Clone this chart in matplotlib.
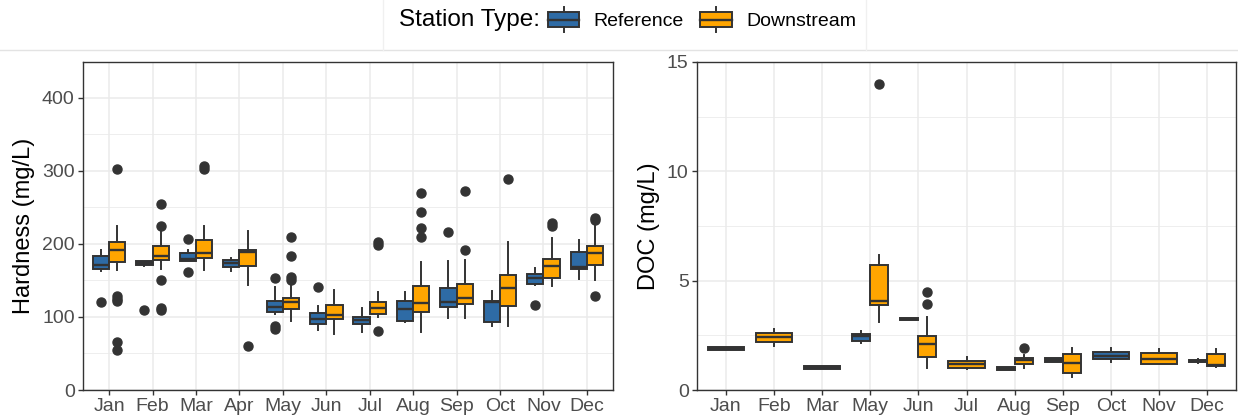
import matplotlib
matplotlib.use("Agg")
import matplotlib.pyplot as plt
from matplotlib.legend_handler import HandlerBase
from matplotlib.lines import Line2D
from matplotlib.patches import Patch, Rectangle
from matplotlib.ticker import MultipleLocator

plt.rcParams['font.family'] = ['Liberation Sans', 'DejaVu Sans']

REF_COL = "#2E6BA5"
DOWN_COL = "#FFA500"
EDGE = "#333333"
GRID = "#EBEBEB"

months = ["Jan", "Feb", "Mar", "Apr", "May", "Jun",
          "Jul", "Aug", "Sep", "Oct", "Nov", "Dec"]

# Hardness (mg/L) box statistics per month: low whisker, q1, median, q3, high whisker
hard_ref_lo = [163, 170, 176, 163, 104, 82, 80, 93, 98, 88, 144, 152]
hard_ref_q1 = [166, 171, 176, 169, 107, 91, 90, 95, 114, 93, 145, 166]
hard_ref_med = [171, 174, 180, 174, 113, 97, 96, 111, 120, 120, 153, 169]
hard_ref_q3 = [184, 176, 187, 178, 122, 105, 100, 122, 140, 122, 159, 189]
hard_ref_hi = [191, 177, 191, 181, 141, 115, 112, 134, 177, 136, 167, 206]
hard_ref_out = [[121], [109], [207, 161], [], [153, 88, 83], [141],
                [], [], [216], [], [117], []]

hard_down_lo = [164, 165, 164, 144, 95, 76, 100, 80, 99, 88, 143, 150]
hard_down_q1 = [175, 178, 181, 170, 111, 97, 104, 107, 118, 115, 153, 171]
hard_down_med = [192, 184, 187, 189, 121, 103, 112, 119, 126, 139, 170, 188]
hard_down_q3 = [203, 197, 206, 191, 126, 116, 121, 142, 145, 157, 180, 197]
hard_down_hi = [224, 219, 224, 218, 153, 137, 134, 175, 178, 202, 208, 230]
hard_down_out = [[303, 128, 125, 122, 66, 55], [255, 225, 151, 112, 109],
                 [306, 303], [60], [210, 184, 155, 151], [],
                 [202, 198, 81], [270, 243, 222, 210], [272, 192], [289],
                 [229, 224], [236, 233, 129]]

# DOC (mg/L); April has no DOC samples, None = station type not sampled
doc_months = ["Jan", "Feb", "Mar", "May", "Jun", "Jul",
              "Aug", "Sep", "Oct", "Nov", "Dec"]
doc_ref_lo = [1.83, None, 0.95, 2.13, 3.20, None, 0.90, 1.30, 1.30, None, 1.25]
doc_ref_q1 = [1.85, None, 0.97, 2.25, 3.20, None, 0.92, 1.30, 1.42, None, 1.27]
doc_ref_med = [1.90, None, 1.03, 2.45, 3.25, None, 0.97, 1.38, 1.55, None, 1.32]
doc_ref_q3 = [1.95, None, 1.10, 2.55, 3.30, None, 1.03, 1.45, 1.72, None, 1.38]
doc_ref_hi = [1.97, None, 1.12, 2.68, 3.30, None, 1.05, 1.48, 1.92, None, 1.40]
doc_ref_out = [[], None, [], [], [], None, [], [], [], None, []]

doc_down_lo = [None, 2.00, None, 3.11, 1.02, 0.95, 0.99, 0.61, None, 1.17, 1.07]
doc_down_q1 = [None, 2.20, None, 3.87, 1.52, 1.00, 1.20, 0.78, None, 1.19, 1.10]
doc_down_med = [None, 2.42, None, 4.07, 2.09, 1.17, 1.35, 1.25, None, 1.43, 1.14]
doc_down_q3 = [None, 2.62, None, 5.71, 2.45, 1.33, 1.46, 1.65, None, 1.68, 1.63]
doc_down_hi = [None, 2.78, None, 6.19, 3.35, 1.49, 1.59, 1.93, None, 1.86, 1.89]
doc_down_out = [None, [], None, [14.0], [3.93, 4.5], [], [1.9], [], None, [], []]


def build_stats(lo, q1, med, q3, hi, out):
    stats = []
    for i in range(len(med)):
        if med[i] is None:
            stats.append(None)
            continue
        stats.append(dict(whislo=lo[i], q1=q1[i], med=med[i], q3=q3[i],
                          whishi=hi[i], fliers=out[i]))
    return stats


def draw_groups(ax, ref_stats, down_stats, dodge=0.75):
    half = dodge / 2
    for stats_list, colour, side in ((ref_stats, REF_COL, -1), (down_stats, DOWN_COL, 1)):
        other = down_stats if side == -1 else ref_stats
        for i, st in enumerate(stats_list):
            if st is None:
                continue
            if other[i] is None:
                pos, width = i + 1, dodge
            else:
                pos, width = i + 1 + side * half / 2, half
            ax.bxp([st], positions=[pos], widths=[width], patch_artist=True,
                   showcaps=False, manage_ticks=False,
                   boxprops=dict(facecolor=colour, edgecolor=EDGE, linewidth=1.4),
                   medianprops=dict(color=EDGE, linewidth=1.7, solid_capstyle='butt'),
                   whiskerprops=dict(color=EDGE, linewidth=1.4),
                   flierprops=dict(marker='o', markerfacecolor=EDGE,
                                   markeredgecolor=EDGE, markersize=6.5))


def style_axes(ax, labels, ylabel, ymax, major, minor):
    ax.set_xlim(0.4, len(labels) + 0.6)
    ax.set_ylim(0, ymax)
    ax.set_xticks(range(1, len(labels) + 1))
    ax.set_xticklabels(labels)
    ax.yaxis.set_major_locator(MultipleLocator(major))
    ax.yaxis.set_minor_locator(MultipleLocator(minor))
    ax.grid(which='major', color=GRID, linewidth=1.1, zorder=0)
    ax.grid(which='minor', axis='y', color=GRID, linewidth=0.6, zorder=0)
    ax.set_axisbelow(True)
    ax.tick_params(which='major', length=3.5, width=1.0, color=EDGE,
                   labelsize=14, labelcolor="#4D4D4D", pad=2.5)
    ax.tick_params(which='minor', length=0)
    for sp in ax.spines.values():
        sp.set_color(EDGE)
        sp.set_linewidth(1.0)
    ax.set_ylabel(ylabel, fontsize=17, labelpad=5)


fig = plt.figure(figsize=(12.38, 4.19), dpi=100)
ax1 = fig.add_axes([83 / 1238, 29 / 419, 530 / 1238, 328 / 419])
ax2 = fig.add_axes([697 / 1238, 29 / 419, 539 / 1238, 328 / 419])

draw_groups(ax1,
            build_stats(hard_ref_lo, hard_ref_q1, hard_ref_med, hard_ref_q3, hard_ref_hi, hard_ref_out),
            build_stats(hard_down_lo, hard_down_q1, hard_down_med, hard_down_q3, hard_down_hi, hard_down_out))
style_axes(ax1, months, "Hardness (mg/L)", 449, 100, 50)

draw_groups(ax2,
            build_stats(doc_ref_lo, doc_ref_q1, doc_ref_med, doc_ref_q3, doc_ref_hi, doc_ref_out),
            build_stats(doc_down_lo, doc_down_q1, doc_down_med, doc_down_q3, doc_down_hi, doc_down_out))
style_axes(ax2, doc_months, "DOC (mg/L)", 15, 5, 2.5)


class BoxKeyHandler(HandlerBase):
    # legend key: small box with median line and whisker stubs
    def create_artists(self, legend, orig_handle, xdescent, ydescent,
                       width, height, fontsize, trans):
        x0, y0 = -xdescent, -ydescent
        box = Rectangle((x0, y0 + 0.12 * height), width, 0.76 * height,
                        facecolor=orig_handle.get_facecolor(), edgecolor=EDGE,
                        linewidth=1.4, transform=trans)
        med = Line2D([x0, x0 + width], [y0 + 0.5 * height] * 2,
                     color=EDGE, linewidth=1.7, transform=trans)
        wlo = Line2D([x0 + width / 2] * 2, [y0 - 0.12 * height, y0 + 0.12 * height],
                     color=EDGE, linewidth=1.4, transform=trans)
        whi = Line2D([x0 + width / 2] * 2, [y0 + 0.88 * height, y0 + 1.12 * height],
                     color=EDGE, linewidth=1.4, transform=trans)
        return [box, med, wlo, whi]


handles = [Patch(facecolor=REF_COL), Patch(facecolor=DOWN_COL)]
fig.legend(handles, ["Reference", "Downstream"], loc='center left',
           bbox_to_anchor=(548 / 1238, 1 - 20 / 419), ncol=2, frameon=False,
           fontsize=14, handlelength=1.6, handleheight=1.2, handletextpad=0.75,
           columnspacing=0.85, borderpad=0, borderaxespad=0,
           handler_map={Patch: BoxKeyHandler()})
fig.text(540 / 1238, 1 - 20 / 419, "Station Type:", ha='right', va='center',
         fontsize=17.5)

# thin frame separating the legend strip from the panels
fig.add_artist(Line2D([0, 1], [1 - 50 / 419] * 2, color="#E3E3E3", linewidth=1.0))
fig.add_artist(Line2D([383 / 1238] * 2, [1 - 50 / 419, 1], color="#F0F0F0", linewidth=1.0))
fig.add_artist(Line2D([866 / 1238] * 2, [1 - 50 / 419, 1], color="#F0F0F0", linewidth=1.0))

fig.savefig("out.png", dpi=100)
